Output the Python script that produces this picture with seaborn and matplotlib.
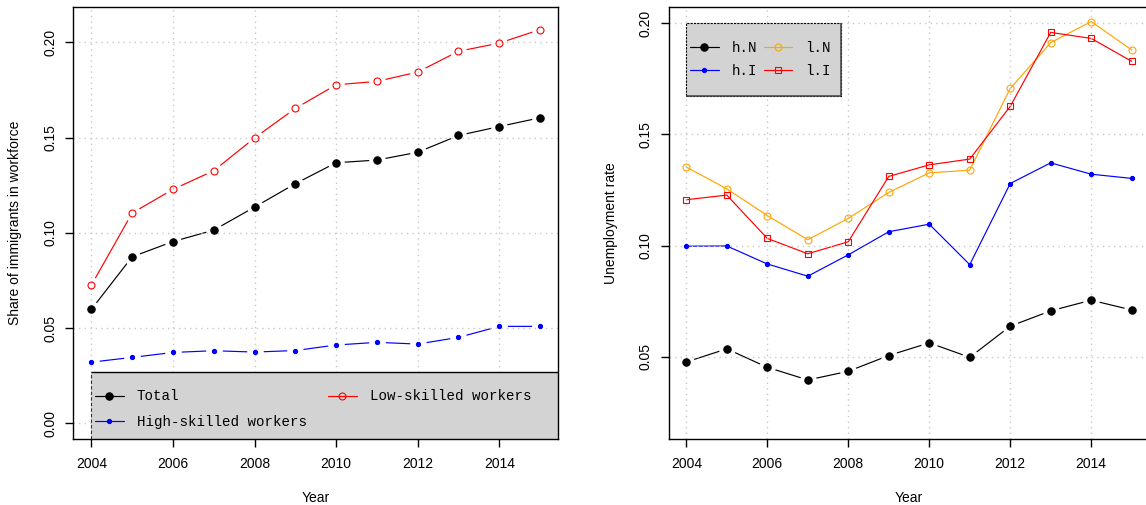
import matplotlib
matplotlib.use("Agg")
import matplotlib.pyplot as plt
from matplotlib.lines import Line2D
from matplotlib.patches import Rectangle
import seaborn as sns

# ---- data -------------------------------------------------------------
years = [2004, 2005, 2006, 2007, 2008, 2009, 2010, 2011, 2012, 2013, 2014, 2015]
year_ticks = [2004, 2006, 2008, 2010, 2012, 2014]

# share of immigrants in the workforce
share_total = [0.0598, 0.0874, 0.0954, 0.1014, 0.1135, 0.1258,
               0.1368, 0.1382, 0.1423, 0.1511, 0.1558, 0.1604]
share_high = [0.0321, 0.0346, 0.0372, 0.0381, 0.0374, 0.0382,
              0.0411, 0.0425, 0.0416, 0.0451, 0.0509, 0.0509]
share_low = [0.0725, 0.1104, 0.1228, 0.1326, 0.1498, 0.1653,
             0.1777, 0.1795, 0.1844, 0.1953, 0.1996, 0.2067]
share_labels = ["Total", "High-skilled workers", "Low-skilled workers"]
share_yticks = [0.00, 0.05, 0.10, 0.15, 0.20]

# unemployment rates: h/l = high/low skilled, N/I = natives/immigrants
unemp_hN = [0.0476, 0.0535, 0.0452, 0.0395, 0.0434, 0.0505,
            0.0562, 0.0497, 0.0637, 0.0706, 0.0754, 0.0710]
unemp_hI = [0.0997, 0.0998, 0.0917, 0.0862, 0.0958, 0.1062,
            0.1096, 0.0914, 0.1279, 0.1372, 0.1321, 0.1302]
unemp_lN = [0.1353, 0.1255, 0.1135, 0.1026, 0.1122, 0.1239,
            0.1327, 0.1339, 0.1707, 0.1913, 0.2008, 0.1880]
unemp_lI = [0.1206, 0.1227, 0.1032, 0.0963, 0.1017, 0.1311,
            0.1363, 0.1389, 0.1626, 0.1959, 0.1932, 0.1829]
unemp_labels = ["h.N", "h.I", "l.N", "l.I"]
unemp_yticks = [0.05, 0.10, 0.15, 0.20]

# ---- style ------------------------------------------------------------
sns.set_theme(style="white")
plt.rcParams["font.family"] = ["Liberation Sans", "DejaVu Sans"]
plt.rcParams.update({
    "font.size": 10, "axes.labelsize": 10,
    "xtick.labelsize": 10, "ytick.labelsize": 10,
    "axes.edgecolor": "black", "axes.linewidth": 1.0,
    "axes.labelcolor": "black", "text.color": "black",
    "xtick.color": "black", "ytick.color": "black",
    "xtick.bottom": True, "ytick.left": True,
    "xtick.major.size": 6, "ytick.major.size": 6,
    "xtick.major.width": 1.0, "ytick.major.width": 1.0,
    "xtick.major.pad": 6.8, "ytick.major.pad": 5.5,
})
LEG_FONT = {"family": "Liberation Mono", "size": 10.2}
LW = 0.85
GRAY = "#D3D3D3"

W, H = 1146, 505
fig = plt.figure(figsize=(W / 100, H / 100), dpi=100)
ax1 = fig.add_axes([73.4 / W, 1 - 439.3 / H, 484.6 / W, 432 / H])
ax2 = fig.add_axes([668.5 / W, 1 - 439.3 / H, 481.0 / W, 432 / H])


def style_axes(ax, ylim, yticks, ylabel):
    ax.set_xlim(2003.56, 2015.44)
    ax.set_ylim(*ylim)
    ax.set_xticks(year_ticks)
    ax.set_xticklabels([str(t) for t in year_ticks])
    ax.set_yticks(yticks)
    ax.set_yticklabels([f"{v:.2f}" for v in yticks], rotation=90, va="center")
    # grid sits above the lines (zorder 2.5) so it stays visible near points
    ax.grid(True, color="#C8C8C8", linestyle=(0, (1, 3)), linewidth=1.0)
    ax.set_axisbelow(False)
    for sp in ax.spines.values():
        sp.set_visible(True)
        sp.set_color("black")
        sp.set_linewidth(1.0)
        sp.set_zorder(9)
    ax.set_xlabel("Year")
    ax.set_ylabel(ylabel)
    ax.xaxis.set_label_coords(0.5, -0.135)
    ax.xaxis.label.set_va("center")
    ax.yaxis.set_label_coords(-0.1205, 0.5)
    ax.yaxis.label.set_va("center")


def draw_series(ax, y, color, marker, ms, filled, gap, z):
    """Line with point markers; gap=True leaves a blank ring round each point."""
    sns.lineplot(x=years, y=y, ax=ax, color=color, linewidth=LW,
                 estimator=None, sort=False, zorder=z)
    if gap:
        sns.lineplot(x=years, y=y, ax=ax, color="white", linestyle="none",
                     marker="o", markersize=12.0, markerfacecolor="white",
                     markeredgecolor="white", markeredgewidth=0,
                     estimator=None, sort=False, zorder=2.4)
    sns.lineplot(x=years, y=y, ax=ax, color=color, linestyle="none",
                 marker=marker, markersize=ms,
                 markerfacecolor=color if filled else "none",
                 markeredgecolor=color, markeredgewidth=0.8,
                 estimator=None, sort=False, zorder=3 + z / 10)


def handle(color, marker, ms, filled):
    return Line2D([], [], color=color, linewidth=LW, marker=marker,
                  markersize=ms, markerfacecolor=color if filled else "none",
                  markeredgecolor=color, markeredgewidth=0.8)


# ---- left panel: share of immigrants -----------------------------------
y1_lo, y1_hi = -0.0084, 0.2184
style_axes(ax1, (y1_lo, y1_hi), share_yticks, "Share of immigrants in workforce")
draw_series(ax1, share_total, "black", "o", 5.3, True, True, 2.0)
draw_series(ax1, share_high, "blue", "o", 3.0, True, True, 2.0)
draw_series(ax1, share_low, "red", "o", 5.0, False, True, 2.0)

leg_top = 0.0268
ax1.add_patch(Rectangle((2004, y1_lo), 2015.44 - 2004, leg_top - y1_lo,
                        facecolor=GRAY, edgecolor="none", zorder=7))
ax1.hlines(leg_top, 2004, 2015.44, color="black", linewidth=1.0, zorder=7.1)
ax1.vlines(2004, y1_lo, leg_top, color="#333333", linewidth=0.8,
           linestyle=(0, (3, 2)), zorder=7.1)
h1 = [handle("black", "o", 5.3, True), handle("blue", "o", 3.0, True),
      handle("red", "o", 5.0, False)]
leg1 = ax1.legend(h1, share_labels, ncol=2, prop=LEG_FONT, frameon=False,
                  loc="upper left", bbox_to_anchor=(95 / W, 1 - 389.5 / H),
                  bbox_transform=fig.transFigure, borderpad=0, borderaxespad=0,
                  handlelength=2.04, handletextpad=0.9, labelspacing=0.78,
                  columnspacing=1.5)
leg1.set_zorder(8)

# ---- right panel: unemployment rate ------------------------------------
style_axes(ax2, (0.0128, 0.2072), unemp_yticks, "Unemployment rate")
draw_series(ax2, unemp_hN, "black", "o", 5.3, True, True, 2.0)
draw_series(ax2, unemp_hI, "blue", "o", 3.0, True, False, 2.1)
draw_series(ax2, unemp_lN, "orange", "o", 5.0, False, False, 2.2)
draw_series(ax2, unemp_lI, "red", "s", 4.3, False, False, 2.3)

bx0, bx1, by0, by1 = 2004, 2007.81, 0.1671, 0.2000
ax2.add_patch(Rectangle((bx0, by0), bx1 - bx0, by1 - by0, facecolor=GRAY,
                        edgecolor="black", linewidth=0.8, linestyle=(0, (2, 1)),
                        zorder=7))
ax2.vlines(bx1, by0, by1, color="#444444", linewidth=1.1, zorder=7.1)
ax2.hlines(by0, bx0, bx1, color="#444444", linewidth=1.1, zorder=7.1)
h2 = [handle("black", "o", 5.3, True), handle("blue", "o", 3.0, True),
      handle("orange", "o", 5.0, False), handle("red", "s", 4.3, False)]
leg2 = ax2.legend(h2, unemp_labels, ncol=2, prop=LEG_FONT, frameon=False,
                  loc="upper left", bbox_to_anchor=(690 / W, 1 - 40.5 / H),
                  bbox_transform=fig.transFigure, borderpad=0, borderaxespad=0,
                  handlelength=2.04, handletextpad=0.89, labelspacing=0.7,
                  columnspacing=0.46)
leg2.set_zorder(8)

fig.savefig("out.png", dpi=100)
